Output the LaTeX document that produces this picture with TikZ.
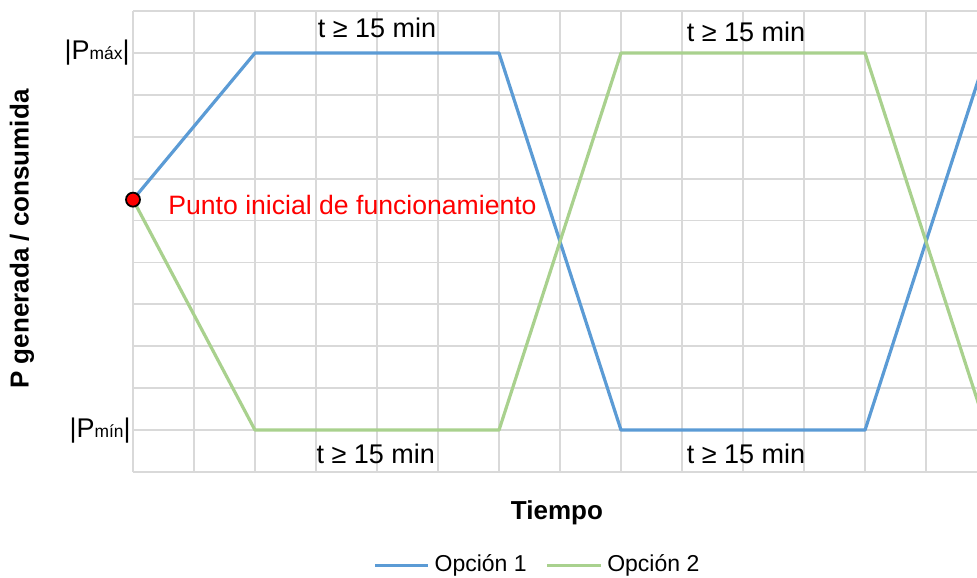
\documentclass[tikz,border=0pt]{standalone}
\usepackage{fontspec}
\setmainfont{Liberation Sans}
\definecolor{opcuno}{HTML}{5B9BD5}
\definecolor{opcdos}{HTML}{A9D18E}
\definecolor{rejillagris}{HTML}{D9D9D9}

\begin{document}
\begin{tikzpicture}[x=30.5pt, y=20.95pt,
    rejilla/.style={draw=rejillagris, line width=0.9pt},
    opcion/.style={line width=1.6pt, line join=round},
    etiqueta/.style={font=\fontsize{13.5}{16}\selectfont, inner sep=0pt},
    titulo/.style={font=\fontsize{13}{16}\selectfont\bfseries, inner sep=0pt},
    leyenda/.style={font=\fontsize{11.5}{14}\selectfont, anchor=west, inner sep=3pt}]
    \useasboundingbox (-66.5pt,-52.5pt) rectangle (422pt,236pt);

    \foreach \i in {0,...,13}
        \draw[rejilla] (\i,0) -- (\i,11);
    \foreach \j in {0,...,11}
        \draw[rejilla] (0,\j) -- (13.836,\j);

    \coordinate (ini) at (0,6.5);
    \begin{scope}
    \clip (-0.1,-0.5) rectangle (13.836,11.5);
    \draw[opcion, opcuno] (ini) -- (2,10) -- (6,10) -- (8,1) -- (12,1) -- (14,10);
    \draw[opcion, opcdos] (ini) -- (2,1) -- (6,1) -- (8,10) -- (12,10) -- (14,1);
    \end{scope}
    \draw[fill=red, draw=black, line width=0.9pt] (ini) circle (3.5pt);

    \node[etiqueta] (tsupA) at (4,10.6) {t ≥ 15 min};
    \node[etiqueta] (tsupB) at (10.05,10.5) {t ≥ 15 min};
    \node[etiqueta] (tinfA) at (3.98,0.43) {t ≥ 15 min};
    \node[etiqueta] (tinfB) at (10.05,0.43) {t ≥ 15 min};
    \node[etiqueta, font=\fontsize{13.3}{16}\selectfont, text=red, anchor=west] (punto) at (0.574,6.37) {Punto inicial de funcionamiento};

    \node[etiqueta, anchor=east, xshift=-1.5pt] (pmax) at (0,10) {|P{\fontsize{8.7}{10}\selectfont máx}|};
    \node[etiqueta, anchor=east, xshift=-1pt] (pmin) at (0,1) {|P{\fontsize{8.7}{10}\selectfont mín}|};

    \node[titulo] (tiempo) at (6.95,-0.98) {Tiempo};
    \node[titulo, rotate=90] (potencia) at (-1.82,5.56) {P generada / consumida};

    % leyenda
    \coordinate (muestra1) at (3.97,-2.24);
    \node[leyenda] (ley1) at (4.84,-2.24) {Opción 1};
    \draw[opcion, opcuno] (muestra1) -- (ley1.west);
    \coordinate (muestra2) at (6.79,-2.24);
    \node[leyenda] (ley2) at (7.67,-2.24) {Opción 2};
    \draw[opcion, opcdos] (muestra2) -- (ley2.west);
\end{tikzpicture}
\end{document}
